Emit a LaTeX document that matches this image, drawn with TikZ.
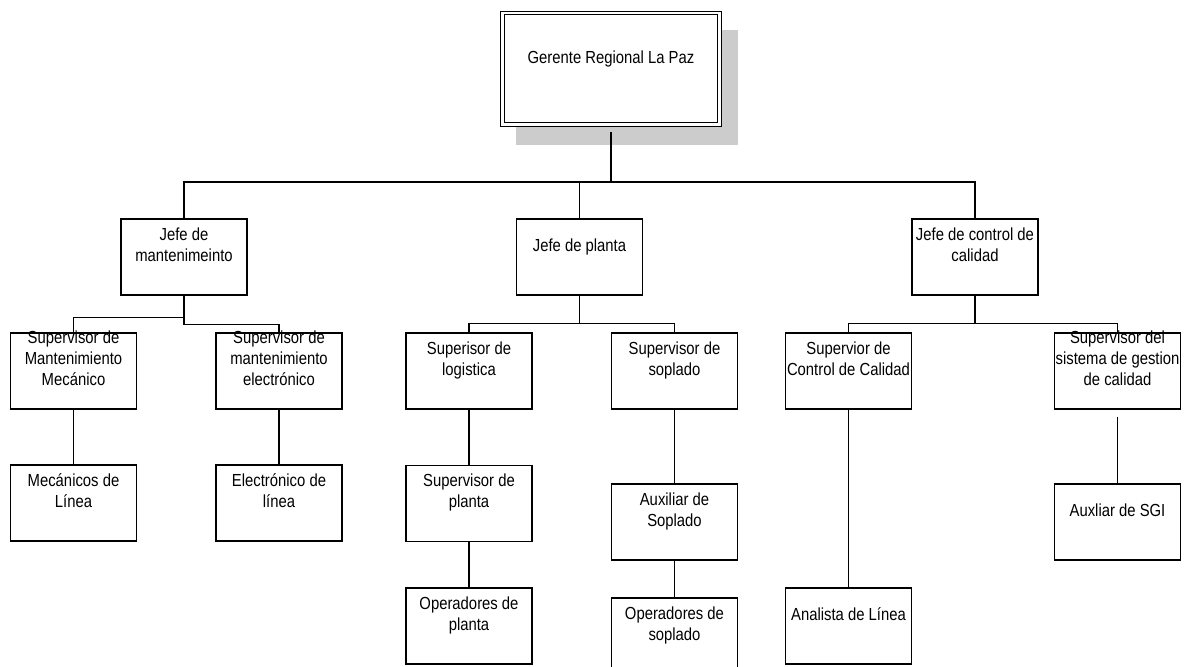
\documentclass[tikz,border=0pt]{standalone}
\usepackage{fontspec}
\usetikzlibrary{calc}
\newfontfamily\orgfont[FakeStretch=0.85]{Liberation Sans}
\newcommand\mystrut{\rule[-4.725pt]{0pt}{15.75pt}}
\definecolor{shadowgray}{RGB}{204,204,204}
\tikzset{
  orgbox/.style={draw=black, line width=0.8pt, fill=white, inner sep=0pt,
    minimum width=94.5pt, minimum height=57pt},
  topbox/.style={draw=black, line width=0.8pt, double=white, double distance=1.9pt,
    fill=white, inner sep=0pt, minimum width=163pt, minimum height=83.6pt},
  txt/.style={font=\orgfont\fontsize{13.1pt}{15.75pt}\selectfont, align=center,
    inner sep=0pt, execute at begin node=\mystrut, execute at end node=\mystrut},
  link/.style={draw=black, line width=0.8pt},
}
\begin{document}
\begin{tikzpicture}[x=0.75pt, y=-0.75pt]
\useasboundingbox (0,0) rectangle (1190,667);
% shadow and top box
\fill[shadowgray] (516,30) rectangle (738,145);
\node[topbox] (top) at (611,68.75) {};
\node[txt] (top-t) at ($(top.center)+(0,-9.5)$) {Gerente Regional La Paz};
% level 2
\node[orgbox] (jm) at (184,257) {};
\node[txt] at ($(jm.center)+(0,-9.5)$) {Jefe de\\mantenimeinto};
\node[orgbox] (jp) at (579.5,257) {};
\node[txt] at ($(jp.center)+(0,-9.5)$) {Jefe de planta};
\node[orgbox] (jc) at (975,257) {};
\node[txt] at ($(jc.center)+(0,-9.5)$) {Jefe de control de\\calidad};
% level 3
\node[orgbox] (smm) at (73.5,371) {};
\node[txt] at ($(smm.center)+(0,-9.5)$) {Supervisor de\\Mantenimiento\\Mecánico};
\node[orgbox] (sme) at (279,371) {};
\node[txt] at ($(sme.center)+(0,-9.5)$) {Supervisor de\\mantenimiento\\electrónico};
\node[orgbox] (sl) at (469,371) {};
\node[txt] at ($(sl.center)+(0,-9.5)$) {Superisor de\\logistica};
\node[orgbox] (ss) at (674.5,371) {};
\node[txt] at ($(ss.center)+(0,-9.5)$) {Supervisor de\\soplado};
\node[orgbox] (scc) at (848.5,371) {};
\node[txt] at ($(scc.center)+(0,-9.5)$) {Supervior de\\Control de Calidad};
\node[orgbox] (ssg) at (1117.5,371) {};
\node[txt] at ($(ssg.center)+(0,-9.5)$) {Supervisor del\\sistema de gestion\\de calidad};
% level 4
\node[orgbox] (mec) at (73.5,503) {};
\node[txt] at ($(mec.center)+(0,-9.5)$) {Mecánicos de\\Línea};
\node[orgbox] (ele) at (279,503) {};
\node[txt] at ($(ele.center)+(0,-9.5)$) {Electrónico de\\línea};
\node[orgbox] (sp) at (469,503.5) {};
\node[txt] at ($(sp.center)+(0,-9.5)$) {Supervisor de\\planta};
\node[orgbox] (aux) at (674.5,522) {};
\node[txt] at ($(aux.center)+(0,-9.5)$) {Auxiliar de\\Soplado};
\node[orgbox] (sgi) at (1117.5,522) {};
\node[txt] at ($(sgi.center)+(0,-9.5)$) {Auxliar de SGI};
% level 5
\node[orgbox] (op) at (469,626) {};
\node[txt] at ($(op.center)+(0,-9.5)$) {Operadores de\\planta};
\node[orgbox] (os) at (674.5,636) {};
\node[txt] at ($(os.center)+(0,-9.5)$) {Operadores de\\soplado};
\node[orgbox] (an) at (848.5,626) {};
\node[txt] at ($(an.center)+(0,-9.5)$) {Analista de Línea};
% connectors
\coordinate (bus) at (611,182);
\draw[link] ($(top.south)+(0,7)$) -- (bus);
\draw[link] (jm.north) |- (bus) -| (jc.north);
\draw[link] (jp.north) -- (jp.north |- bus);
\draw[link] (jm.south) -- ($(jm.south)+(0,29)$) -| (sme.north);
\draw[link] ($(jm.south)+(0,22)$) -| (smm.north);
\draw[link] (jp.south) -- ($(jp.south)+(0,28)$);
\draw[link] (sl.north) |- ($(jp.south)+(0,28)$) -| (ss.north);
\draw[link] (jc.south) -- ($(jc.south)+(0,28)$);
\draw[link] (scc.north) |- ($(jc.south)+(0,28)$) -| (ssg.north);
\draw[link] (smm.south) -- (mec.north);
\draw[link] (sme.south) -- (ele.north);
\draw[link] (sl.south) -- (sp.north);
\draw[link] (sp.south) -- (op.north);
\draw[link] (ss.south) -- (aux.north);
\draw[link] (aux.south) -- (os.north);
\draw[link] (scc.south) -- (an.north);
\draw[link] ($(ssg.south)+(0,7)$) -- (sgi.north);
\end{tikzpicture}
\end{document}
